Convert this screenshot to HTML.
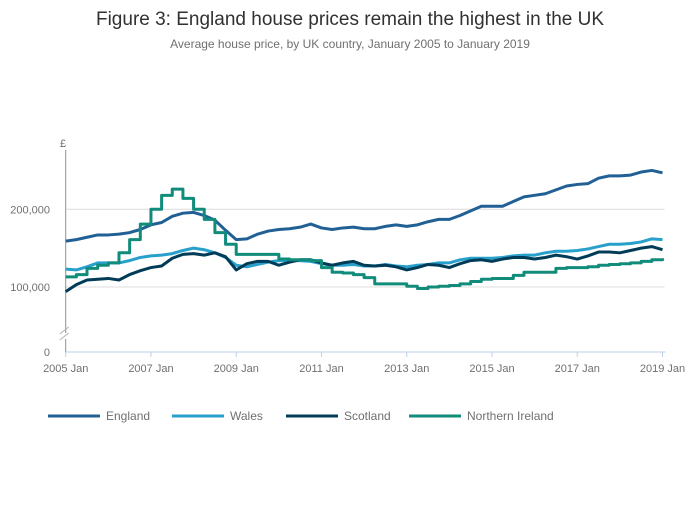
<!DOCTYPE html>
<html><head><meta charset="utf-8"><style>
body{margin:0;background:#fff;font-family:"Liberation Sans",sans-serif}
svg text{font-family:"Liberation Sans",sans-serif}
</style></head><body>
<svg id="chart" width="700" height="502">
<text x="350" y="25" text-anchor="middle" font-size="19" fill="#323132">Figure 3: England house prices remain the highest in the UK</text>
<text x="350" y="48" text-anchor="middle" font-size="12" fill="#707070">Average house price, by UK country, January 2005 to January 2019</text>
<g id="grid"></g><g id="axes"></g><g id="series"></g><g id="legend"></g>
</svg>
<script>
const years = [2005,2007,2009,2011,2013,2015,2017,2019];
const yTicks = [100000,200000];
const seriesNames = ["England","Wales","Scotland","Northern Ireland"];
const england = [159,161,164,167,167,168,170,174,180,183,191,195,196,192,186,173,161,162,168,172,174,175,177,181,176,174,176,177,175,175,178,180,178,180,184,187,187,192,198,204,204,204,210,216,218,220,225,230,232,233,240,243,243,244,248,250,247];
const wales = [123,122,126,131,131,131,134,138,140,141,143,147,150,148,144,138,128,126,129,132,134,134,134,133,130,128,128,129,127,127,129,127,126,128,129,131,131,135,137,137,137,138,140,141,141,144,146,146,147,149,152,155,155,156,158,162,161];
const scotland = [94,103,109,110,111,109,116,121,125,127,137,142,143,141,144,139,122,130,133,133,128,132,135,135,131,128,131,133,128,127,128,126,122,125,129,128,125,130,134,135,133,136,138,138,136,138,141,139,136,140,145,145,144,147,150,152,148];
const nireland = [113,116,124,128,131,144,161,181,200,218,226,214,200,187,170,155,142,142,142,142,136,135,135,134,125,119,118,116,112,104,104,104,101,98,100,101,102,104,107,110,111,111,115,119,119,119,124,125,125,126,128,129,130,131,133,135,137];
const colors = ["#206095","#27a0cc","#003c57","#118c7b"];
const NS="http://www.w3.org/2000/svg";
const x0=65.7,x1=662.5;
function xScale(t){return x0+(t-2005)/14*(x1-x0);}
function yScale(v){return 287-(v-100000)*0.000777;}
function mk(tag,attrs,parent){const e=document.createElementNS(NS,tag);for(const k in attrs)e.setAttribute(k,attrs[k]);parent.appendChild(e);return e;}
const grid=document.getElementById('grid'),axes=document.getElementById('axes'),ser=document.getElementById('series'),leg=document.getElementById('legend');
yTicks.forEach(v=>{
  const l=mk('line',{x1:x0,x2:x1+2,y1:yScale(v),y2:yScale(v),stroke:'#dcdcdc','stroke-width':1},grid);
  
  
  const t=mk('text',{x:50,y:yScale(v)+4,'text-anchor':'end','font-size':11,fill:'#707070'},axes);
  t.textContent=v.toLocaleString('en-GB');
  
  
});
let a=mk('path',{d:`M${x0} 150 V333 M${x0} 339 V352`,stroke:'#909090','stroke-width':1,fill:'none'},axes);


a=mk('path',{d:`M${x0-6} 334 L${x0+3} 327 M${x0-6} 340 L${x0+3} 333`,stroke:'#b0b0b0','stroke-width':1,fill:'none'},axes);


a=mk('text',{x:63,y:147,'text-anchor':'middle','font-size':11,fill:'#707070'},axes);a.textContent='£';


a=mk('text',{x:50,y:356,'text-anchor':'end','font-size':11,fill:'#707070'},axes);a.textContent='0';


a=mk('line',{x1:x0,x2:x1+3,y1:352,y2:352,stroke:'#bcd0e8','stroke-width':1},axes);


years.forEach(y=>{
  const tk=mk('line',{x1:xScale(y),x2:xScale(y),y1:352,y2:357,stroke:'#bcd0e8'},axes);
  
  
  const t=mk('text',{x:xScale(y),y:372,'text-anchor':'middle','font-size':11,fill:'#707070'},axes);
  t.textContent=y+' Jan';
  
  
});
const data=[england,wales,scotland,nireland];
data.forEach((arr,i)=>{
  let d='';
  arr.forEach((v,j)=>{
    const x=xScale(2005+j/4),y=yScale(v*1000);
    if(i===3){d+= j===0?`M${x} ${y}`:`H${x} V${y}`;}
    else d+=(j?'L':'M')+x+' '+y;
  });
  const p=mk('path',{d:d,stroke:colors[i],'stroke-width':3,fill:'none','stroke-linejoin':'round'},ser);
  
  
});
const lx=[48,172,286,409];
seriesNames.forEach((n,i)=>{
  const g=mk('g',{},leg);
  
  
  mk('line',{x1:lx[i],x2:lx[i]+52,y1:416,y2:416,stroke:colors[i],'stroke-width':3},g);
  const t=mk('text',{x:lx[i]+58,y:420,'font-size':12,fill:'#707070'},g);t.textContent=n;
});
</script>
</body></html>
